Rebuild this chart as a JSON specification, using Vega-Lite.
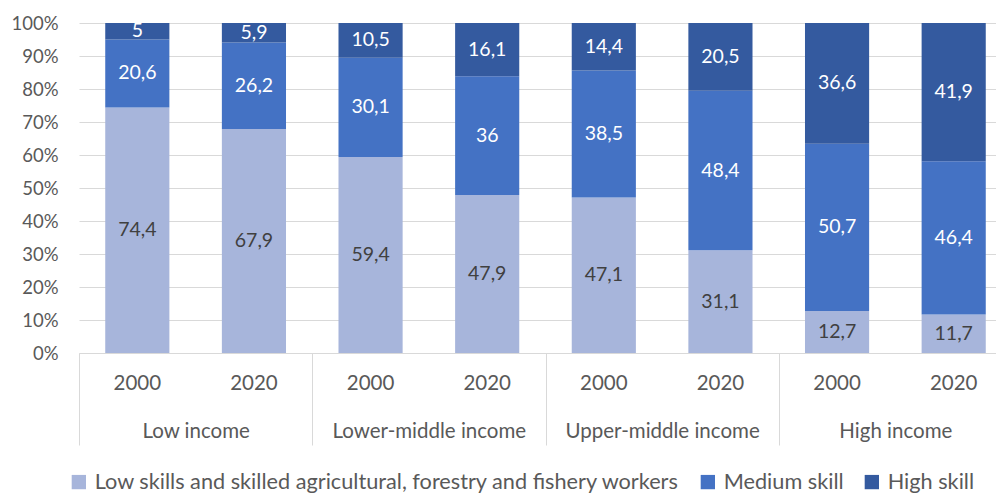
{
  "$schema": "https://vega.github.io/schema/vega-lite/v6.json",
  "width": 917,
  "height": 330,
  "autosize": {"type": "none"},
  "padding": {"left": 79, "top": 23, "right": 0, "bottom": 140},
  "config": {
    "font": "Lato",
    "view": {"stroke": null},
    "locale": {"number": {"decimal": ",", "thousands": ".", "grouping": [3], "currency": ["", ""]}}
  },
  "data": {
    "values": [
      {"income": "Low income", "year": "2000", "bar": "Low income 2000", "skill": "Low skills and skilled agricultural, forestry and fishery workers", "rank": 1, "share": 74.4},
      {"income": "Low income", "year": "2000", "bar": "Low income 2000", "skill": "Medium skill", "rank": 2, "share": 20.6},
      {"income": "Low income", "year": "2000", "bar": "Low income 2000", "skill": "High skill", "rank": 3, "share": 5},
      {"income": "Low income", "year": "2020", "bar": "Low income 2020", "skill": "Low skills and skilled agricultural, forestry and fishery workers", "rank": 1, "share": 67.9},
      {"income": "Low income", "year": "2020", "bar": "Low income 2020", "skill": "Medium skill", "rank": 2, "share": 26.2},
      {"income": "Low income", "year": "2020", "bar": "Low income 2020", "skill": "High skill", "rank": 3, "share": 5.9},
      {"income": "Lower-middle income", "year": "2000", "bar": "Lower-middle income 2000", "skill": "Low skills and skilled agricultural, forestry and fishery workers", "rank": 1, "share": 59.4},
      {"income": "Lower-middle income", "year": "2000", "bar": "Lower-middle income 2000", "skill": "Medium skill", "rank": 2, "share": 30.1},
      {"income": "Lower-middle income", "year": "2000", "bar": "Lower-middle income 2000", "skill": "High skill", "rank": 3, "share": 10.5},
      {"income": "Lower-middle income", "year": "2020", "bar": "Lower-middle income 2020", "skill": "Low skills and skilled agricultural, forestry and fishery workers", "rank": 1, "share": 47.9},
      {"income": "Lower-middle income", "year": "2020", "bar": "Lower-middle income 2020", "skill": "Medium skill", "rank": 2, "share": 36},
      {"income": "Lower-middle income", "year": "2020", "bar": "Lower-middle income 2020", "skill": "High skill", "rank": 3, "share": 16.1},
      {"income": "Upper-middle income", "year": "2000", "bar": "Upper-middle income 2000", "skill": "Low skills and skilled agricultural, forestry and fishery workers", "rank": 1, "share": 47.1},
      {"income": "Upper-middle income", "year": "2000", "bar": "Upper-middle income 2000", "skill": "Medium skill", "rank": 2, "share": 38.5},
      {"income": "Upper-middle income", "year": "2000", "bar": "Upper-middle income 2000", "skill": "High skill", "rank": 3, "share": 14.4},
      {"income": "Upper-middle income", "year": "2020", "bar": "Upper-middle income 2020", "skill": "Low skills and skilled agricultural, forestry and fishery workers", "rank": 1, "share": 31.1},
      {"income": "Upper-middle income", "year": "2020", "bar": "Upper-middle income 2020", "skill": "Medium skill", "rank": 2, "share": 48.4},
      {"income": "Upper-middle income", "year": "2020", "bar": "Upper-middle income 2020", "skill": "High skill", "rank": 3, "share": 20.5},
      {"income": "High income", "year": "2000", "bar": "High income 2000", "skill": "Low skills and skilled agricultural, forestry and fishery workers", "rank": 1, "share": 12.7},
      {"income": "High income", "year": "2000", "bar": "High income 2000", "skill": "Medium skill", "rank": 2, "share": 50.7},
      {"income": "High income", "year": "2000", "bar": "High income 2000", "skill": "High skill", "rank": 3, "share": 36.6},
      {"income": "High income", "year": "2020", "bar": "High income 2020", "skill": "Low skills and skilled agricultural, forestry and fishery workers", "rank": 1, "share": 11.7},
      {"income": "High income", "year": "2020", "bar": "High income 2020", "skill": "Medium skill", "rank": 2, "share": 46.4},
      {"income": "High income", "year": "2020", "bar": "High income 2020", "skill": "High skill", "rank": 3, "share": 41.9}
    ]
  },
  "layer": [
    {
      "layer": [
        {
          "mark": {"type": "bar"},
          "encoding": {
            "x": {
              "field": "bar", "type": "nominal", "sort": null,
              "scale": {"range": [0, 933], "paddingInner": 0.45, "paddingOuter": 0.225},
              "axis": {"orient": "bottom", "title": null, "labelExpr": "slice(datum.label, -4)", "labelAngle": 0, "ticks": false, "domain": true, "domainColor": "#d9d9d9", "domainWidth": 1, "labelFontSize": 20.5, "labelColor": "#595959", "labelPadding": 20, "grid": false}
            },
            "y": {
              "field": "share", "type": "quantitative", "stack": "normalize",
              "scale": {"domain": [0, 1], "nice": false},
              "axis": {"title": null, "values": [0, 0.1, 0.2, 0.3, 0.4, 0.5, 0.6, 0.7, 0.8, 0.9, 1], "format": ".0%", "grid": true, "gridColor": "#d9d9d9", "gridWidth": 1, "domain": false, "ticks": false, "labelFontSize": 18.5, "labelColor": "#595959", "labelPadding": 21, "labelOverlap": false}
            },
            "color": {
              "field": "skill", "type": "nominal",
              "scale": {
                "domain": ["Low skills and skilled agricultural, forestry and fishery workers", "Medium skill", "High skill"],
                "range": ["#A7B5DB", "#4472C4", "#345A9F"]
              },
              "legend": {"orient": "none", "legendX": -11, "legendY": 448, "direction": "horizontal", "columns": 3, "title": null, "symbolType": "square", "symbolSize": 205, "symbolStrokeWidth": 0, "labelFontSize": 21.7, "labelColor": "#595959", "columnPadding": 17, "labelOffset": 5, "labelLimit": 800}
            },
            "order": {"field": "rank", "type": "quantitative"}
          }
        },
        {
          "mark": {"type": "text", "fontSize": 19.5},
          "encoding": {
            "x": {"field": "bar", "type": "nominal", "sort": null},
            "y": {
              "field": "share", "type": "quantitative", "stack": "normalize", "bandPosition": 0.5,
              "axis": {"title": null, "values": [0, 0.1, 0.2, 0.3, 0.4, 0.5, 0.6, 0.7, 0.8, 0.9, 1], "format": ".0%", "grid": true, "gridColor": "#d9d9d9", "gridWidth": 1, "domain": false, "ticks": false, "labelFontSize": 18.5, "labelColor": "#595959", "labelPadding": 21, "labelOverlap": false}
            },
            "text": {"field": "share", "type": "quantitative", "format": ".1~f"},
            "order": {"field": "rank", "type": "quantitative"},
            "color": {"condition": {"test": "datum.rank == 1", "value": "#404040"}, "value": "#ffffff"}
          }
        }
      ]
    },
    {
      "mark": {"type": "text", "opacity": 0},
      "encoding": {
        "x": {
          "field": "income", "type": "nominal", "sort": null,
          "scale": {"type": "band", "range": [0, 933], "paddingInner": 0, "paddingOuter": 0},
          "axis": {"orient": "bottom", "title": null, "labelAngle": 0, "tickBand": "extent", "ticks": true, "tickSize": 92, "tickColor": "#d9d9d9", "tickWidth": 1, "domain": false, "grid": false, "labelFontSize": 20.5, "labelColor": "#595959", "labelPadding": -24, "labelLimit": 400}
        },
        "text": {"field": "income"}
      }
    }
  ],
  "resolve": {"scale": {"x": "independent"}, "axis": {"x": "independent"}}
}
